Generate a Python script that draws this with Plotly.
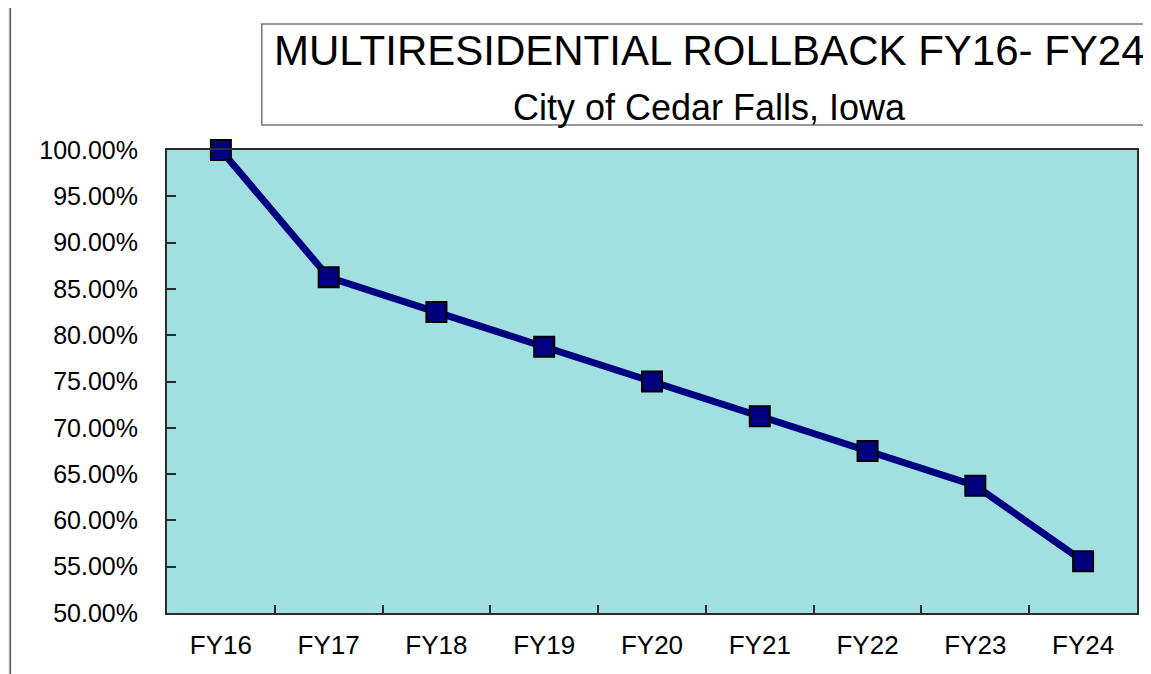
import plotly.graph_objects as go

categories = ["FY16", "FY17", "FY18", "FY19", "FY20", "FY21", "FY22", "FY23", "FY24"]
rollback_pct = [100.0, 86.25, 82.5, 78.75, 75.0, 71.25, 67.5, 63.75, 55.6]
y_ticks = [50, 55, 60, 65, 70, 75, 80, 85, 90, 95, 100]
title_text = "MULTIRESIDENTIAL ROLLBACK FY16- FY24"
subtitle_text = "City of Cedar Falls, Iowa"

OFF = 8  # page body margin
SW, SH = 1151, 674
W, H = SW - OFF, SH - OFF
# plot area in screen pixels
PL, PR, PT, PB = 167, 1139, 150, 613
L, R, T, B = PL - OFF, W - (PR - OFF), PT - OFF, H - (PB - OFF)
pw, ph = W - L - R, H - T - B

def px_x(p):  # screen px -> paper
    return (p - PL) / pw

def px_y(p):
    return (PB - p) / ph

FONT = "Liberation Sans, Arial, sans-serif"

fig = go.Figure()
fig.add_trace(go.Scatter(
    x=categories, y=rollback_pct, mode="lines+markers",
    line=dict(color="#000080", width=7),
    marker=dict(symbol="square", size=20, color="#000080",
                line=dict(color="#000000", width=2)),
    cliponaxis=False, showlegend=False,
))

shapes = [
    dict(type="rect", xref="paper", yref="paper", x0=px_x(-5), x1=px_x(10), y0=px_y(SH + 5), y1=px_y(-5),
         fillcolor="#eeeeee", line=dict(width=0), layer="below"),
    dict(type="rect", xref="paper", yref="paper", x0=px_x(-5), x1=px_x(SW + 5), y0=px_y(5), y1=px_y(-5),
         fillcolor="#eeeeee", line=dict(width=0), layer="below"),
    dict(type="line", xref="paper", yref="paper", x0=px_x(10), x1=px_x(10), y0=px_y(5), y1=px_y(SH + 5),
         line=dict(color="#555555", width=1.5)),
    dict(type="line", xref="paper", yref="paper", x0=px_x(10), x1=px_x(SW + 5), y0=px_y(5), y1=px_y(5),
         line=dict(color="#777777", width=1.5)),
    dict(type="rect", xref="paper", yref="paper", x0=px_x(262), x1=px_x(SW + 20), y0=px_y(125), y1=px_y(24),
         fillcolor="#ffffff", line=dict(color="#777777", width=1.5)),
]

annotations = [
    dict(text=title_text, xref="paper", yref="paper", x=px_x(711), y=px_y(51),
         xanchor="center", yanchor="middle", showarrow=False,
         font=dict(family=FONT, size=42, color="#000000")),
    dict(text=subtitle_text, xref="paper", yref="paper", x=px_x(711), y=px_y(108),
         xanchor="center", yanchor="middle", showarrow=False,
         font=dict(family=FONT, size=36, color="#000000")),
]

fig.update_layout(
    width=W, height=H,
    margin=dict(l=L, r=R, t=T, b=B, pad=0),
    paper_bgcolor="#ffffff", plot_bgcolor="#A1DFE0",
    shapes=shapes, annotations=annotations,
    font=dict(family=FONT, color="#000000"),
    xaxis=dict(
        type="category", categoryorder="array", categoryarray=categories,
        range=[-0.5, len(categories) - 0.5],
        showgrid=False, zeroline=False,
        showline=True, linecolor="#2b2b2b", linewidth=2, mirror=True,
        ticks="inside", tickson="boundaries", ticklen=8, tickcolor="#2b2b2b", tickwidth=1.5,
        tickfont=dict(family=FONT, size=26, color="#000000"),
        ticklabelstandoff=8,
    ),
    yaxis=dict(
        range=[50, 100], tickvals=y_ticks,
        ticktext=[f"{v:.2f}%" for v in y_ticks],
        showgrid=False, zeroline=False,
        showline=True, linecolor="#2b2b2b", linewidth=2, mirror=True,
        ticks="inside", ticklen=9, tickcolor="#2b2b2b", tickwidth=1.5,
        tickfont=dict(family=FONT, size=25, color="#000000"),
        ticklabelstandoff=22,
    ),
)

fig.write_html("out.html")
